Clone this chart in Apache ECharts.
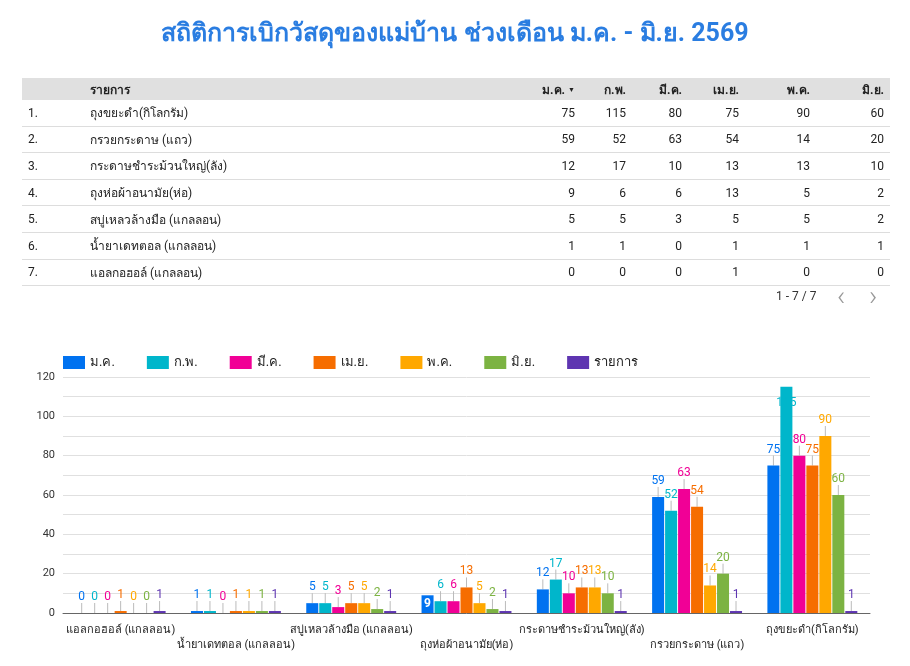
<!DOCTYPE html>
<html>
<head>
<meta charset="utf-8">
<script src="https://cdn.jsdelivr.net/npm/echarts@6/dist/echarts.min.js"></script>
<style>
  body { margin: 0; font-family: Roboto, 'Noto Sans', sans-serif; background: #fff; }
  #chart { position: absolute; left: 0; top: 0; width: 910px; height: 666px; }
  table { position: absolute; left: 22px; top: 78px; width: 868px; table-layout: fixed; border-collapse: collapse; font-size: 12px; color: #222; }
  th { background: #e0e0e0; height: 22px; font-weight: bold; text-align: right; padding: 0 6px 0 0; }
  td { height: 25.6px; border-bottom: 1px solid #ddd; text-align: right; padding: 0 6px 0 0; }
  .l { text-align: left; padding-left: 6px; }
  .pager { position: absolute; left: 776px; top: 289px; font-size: 12px; color: #333; }
  .pager span { position: absolute; top: -10px; color: #999; font-size: 28px; font-weight: 300; }
</style>
</head>
<body>
<div id="chart"></div>
<table id="tbl"></table>
<div class="pager">1 - 7 / 7<span style="left:61px">&#8249;</span><span style="left:93px">&#8250;</span></div>
<script>
// ข้อมูล
var items = ['ถุงขยะดำ(กิโลกรัม)', 'กรวยกระดาษ (แถว)', 'กระดาษชำระม้วนใหญ่(ลัง)', 'ถุงห่อผ้าอนามัย(ห่อ)', 'สบู่เหลวล้างมือ (แกลลอน)', 'น้ำยาเดทตอล (แกลลอน)', 'แอลกอฮอล์ (แกลลอน)']
var months = ['ม.ค.', 'ก.พ.', 'มี.ค.', 'เม.ย.', 'พ.ค.', 'มิ.ย.']
var jan = [75, 59, 12, 9, 5, 1, 0]
var feb = [115, 52, 17, 6, 5, 1, 0]
var mar = [80, 63, 10, 6, 3, 0, 0]
var apr = [75, 54, 13, 13, 5, 1, 1]
var may = [90, 14, 13, 5, 5, 1, 0]
var jun = [60, 20, 10, 2, 2, 1, 0]
var itemCol = [1, 1, 1, 1, 1, 1, 1]
var colors = ['#0072f0', '#00b6cb', '#f10096', '#f66d00', '#ffa800', '#7cb342', '#5e35b1']

var monthData = [jan, feb, mar, apr, may, jun]

// ตาราง
var colW = [62, 441, 56, 51, 56, 57, 71, 74]
var html = '<colgroup>' + colW.map(function (w) { return '<col style="width:' + w + 'px">' }).join('') + '</colgroup>'
html += '<tr><th class="l"></th><th class="l">รายการ</th>'
months.forEach(function (m, i) {
  html += '<th>' + m + (i === 0 ? ' <span style="font-size:7px;vertical-align:2px">&#9660;</span>' : '') + '</th>'
})
html += '</tr>'
items.forEach(function (name, r) {
  html += '<tr><td class="l">' + (r + 1) + '.</td><td class="l">' + name + '</td>'
  monthData.forEach(function (arr) { html += '<td>' + arr[r] + '</td>' })
  html += '</tr>'
})
document.getElementById('tbl').innerHTML = html

// กราฟ (เรียงจากน้อยไปมาก)
var cats = items.slice().reverse()
var seriesNames = months.concat(['รายการ'])
var seriesData = monthData.concat([itemCol])

// ป้ายที่อยู่ในแท่ง เหมือนต้นฉบับ
function isInside (s, i, v) {
  return v > 110 || (s === 0 && i === 3)
}

function barData (s) {
  return seriesData[s].slice().reverse().map(function (v, i) {
    if (v > 110) {
      return { value: v, label: { position: 'insideTop', distance: 10 } }
    }
    if (isInside(s, i, v)) {
      return { value: v, label: { position: 'inside', color: '#fff', fontWeight: 'bold' } }
    }
    return v
  })
}

var chart = echarts.init(document.getElementById('chart'))
chart.setOption({
  textStyle: { fontFamily: "Roboto, 'Noto Sans', sans-serif" },
  title: {
    text: 'สถิติการเบิกวัสดุของแม่บ้าน ช่วงเดือน ม.ค. - มิ.ย. 2569',
    left: 'center',
    top: 17,
    textStyle: { color: '#2a7de1', fontSize: 25, fontWeight: 'bold' }
  },
  color: colors,
  legend: {
    data: seriesNames,
    left: 58,
    top: 351,
    itemWidth: 22,
    itemHeight: 13,
    itemGap: 32,
    icon: 'rect',
    textStyle: { fontSize: 13, color: '#222' }
  },
  grid: { left: 63, right: 40, top: 377, bottom: 53 },
  xAxis: {
    type: 'category',
    data: cats,
    axisTick: { show: false },
    axisLine: { lineStyle: { color: '#666' } },
    axisLabel: {
      interval: 0,
      margin: 10,
      fontSize: 11,
      lineHeight: 15,
      color: '#222',
      formatter: function (v, i) { return i % 2 ? '\n' + v : v }
    }
  },
  yAxis: {
    type: 'value',
    min: 0,
    max: 120,
    interval: 20,
    axisLabel: { fontSize: 11, color: '#333' },
    splitLine: { lineStyle: { color: '#e0e0e0' } },
    minorTick: { show: false, splitNumber: 2 },
    minorSplitLine: { show: true, lineStyle: { color: '#e0e0e0' } }
  },
  series: seriesNames.map(function (name, s) {
    return {
      name: name,
      type: 'bar',
      barGap: '8%',
      barCategoryGap: '22%',
      data: barData(s),
      label: {
        show: true,
        position: 'top',
        distance: 2,
        fontSize: 12,
        color: colors[s]
      },
      labelLayout: function (p) {
        var v = seriesData[s][seriesData[s].length - 1 - p.dataIndex]
        return isInside(s, p.dataIndex, v) ? {} : { dy: -8 }
      },
      labelLine: { show: true, lineStyle: { color: '#bbb', width: 1 } }
    }
  })
})
</script>
</body>
</html>
